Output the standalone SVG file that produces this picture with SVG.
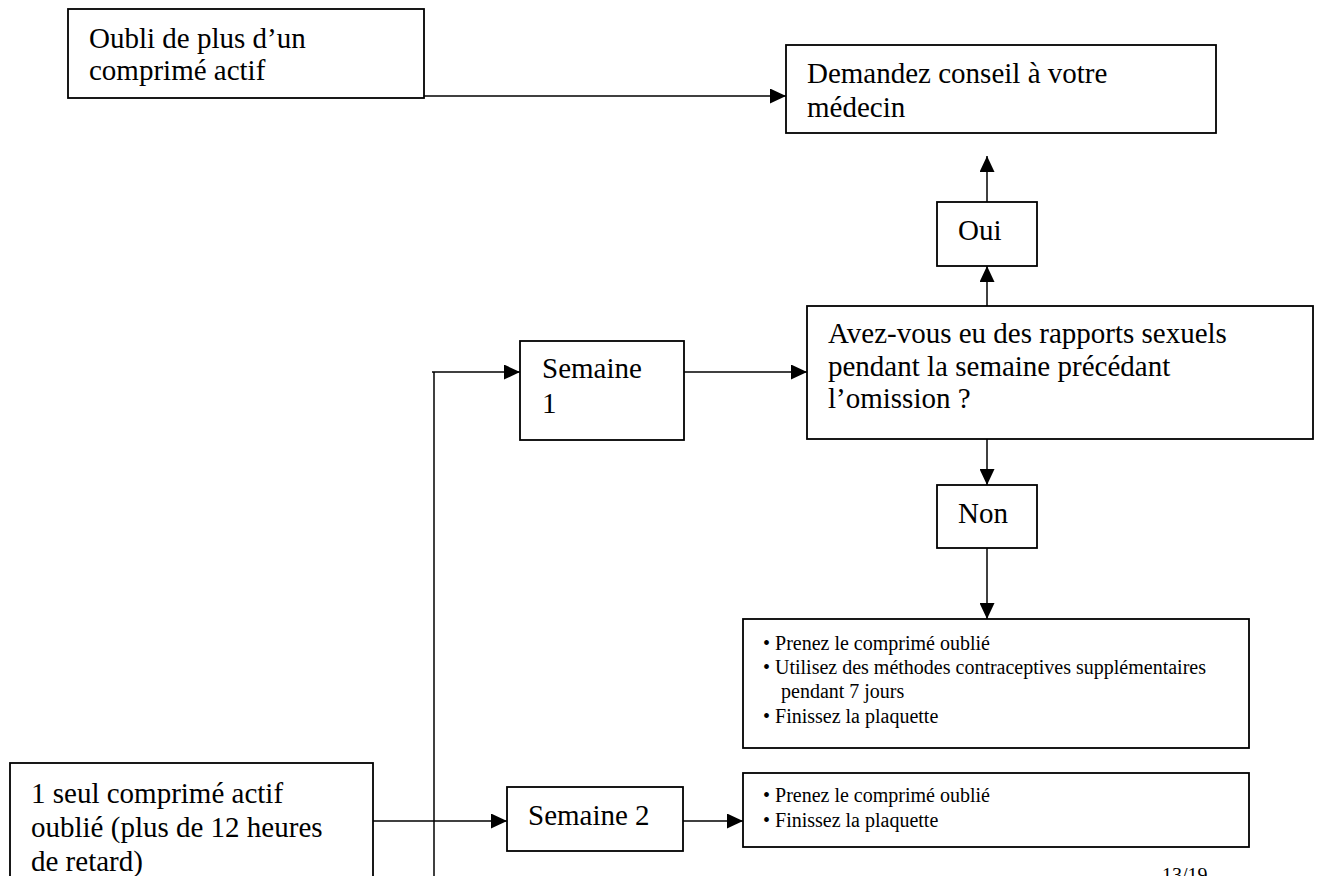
<svg xmlns="http://www.w3.org/2000/svg" width="1317" height="876" viewBox="0 0 1317 876">
<style>
.box{fill:#fff;stroke:#000;stroke-width:1.8}
.big{font-family:"Liberation Serif","Times New Roman",serif;font-size:29px;fill:#000}
.small{font-family:"Liberation Serif","Times New Roman",serif;font-size:20px;fill:#000}
.conn{fill:none;stroke:#000;stroke-width:1.5}
</style>
<defs>
<marker id="arr" markerUnits="userSpaceOnUse" markerWidth="16" markerHeight="15" refX="16" refY="7.5" orient="auto">
<path d="M0,0 L16,7.5 L0,15 z" fill="#000"/>
</marker>
</defs>
<rect width="1317" height="876" fill="#fff"/>
<g id="connectors">
<path class="conn" d="M424,96 H786" marker-end="url(#arr)"/>
<path class="conn" d="M987,202 V156" marker-end="url(#arr)"/>
<path class="conn" d="M987,306 V266" marker-end="url(#arr)"/>
<path class="conn" d="M987,430 V485" marker-end="url(#arr)"/>
<path class="conn" d="M987,548 V619" marker-end="url(#arr)"/>
<path class="conn" d="M434,372 V876"/>
<path class="conn" d="M432,372 H520" marker-end="url(#arr)"/>
<path class="conn" d="M684,372 H807" marker-end="url(#arr)"/>
<path class="conn" d="M373,821 H507" marker-end="url(#arr)"/>
<path class="conn" d="M683,821 H743" marker-end="url(#arr)"/>
</g>
<g id="oubli">
<rect class="box" x="68" y="9" width="356" height="89"/>
<text class="big" x="89" y="48">Oubli de plus d’un</text>
<text class="big" x="89" y="80">comprimé actif</text>
</g>
<g id="medecin">
<rect class="box" x="786" y="45" width="430" height="88"/>
<text class="big" x="807" y="83">Demandez conseil à votre</text>
<text class="big" x="807" y="117">médecin</text>
</g>
<g id="oui">
<rect class="box" x="937" y="202" width="100" height="64"/>
<text class="big" x="958" y="240">Oui</text>
</g>
<g id="question">
<rect class="box" x="807" y="306" width="506" height="133"/>
<text class="big" x="828" y="343">Avez-vous eu des rapports sexuels</text>
<text class="big" x="828" y="376">pendant la semaine précédant</text>
<text class="big" x="828" y="408">l’omission ?</text>
</g>
<g id="semaine1">
<rect class="box" x="520" y="341" width="164" height="99"/>
<text class="big" x="542" y="378">Semaine</text>
<text class="big" x="542" y="413">1</text>
</g>
<g id="non">
<rect class="box" x="937" y="485" width="100" height="63"/>
<text class="big" x="958" y="523">Non</text>
</g>
<g id="actions1">
<rect class="box" x="743" y="619" width="506" height="129"/>
<text class="small" x="763" y="650">• Prenez le comprimé oublié</text>
<text class="small" x="763" y="674">• Utilisez des méthodes contraceptives supplémentaires</text>
<text class="small" x="781" y="698">pendant 7 jours</text>
<text class="small" x="763" y="723">• Finissez la plaquette</text>
</g>
<g id="unseul">
<rect class="box" x="10" y="763" width="363" height="130"/>
<text class="big" x="31" y="803">1 seul comprimé actif</text>
<text class="big" x="31" y="837">oublié (plus de 12 heures</text>
<text class="big" x="31" y="871">de retard)</text>
</g>
<g id="semaine2">
<rect class="box" x="507" y="787" width="176" height="64"/>
<text class="big" x="528" y="825">Semaine 2</text>
</g>
<g id="actions2">
<rect class="box" x="743" y="773" width="506" height="74"/>
<text class="small" x="763" y="802">• Prenez le comprimé oublié</text>
<text class="small" x="763" y="827">• Finissez la plaquette</text>
</g>
<text class="small" x="1162" y="882" style="font-size:20px">13/19</text>
</svg>
